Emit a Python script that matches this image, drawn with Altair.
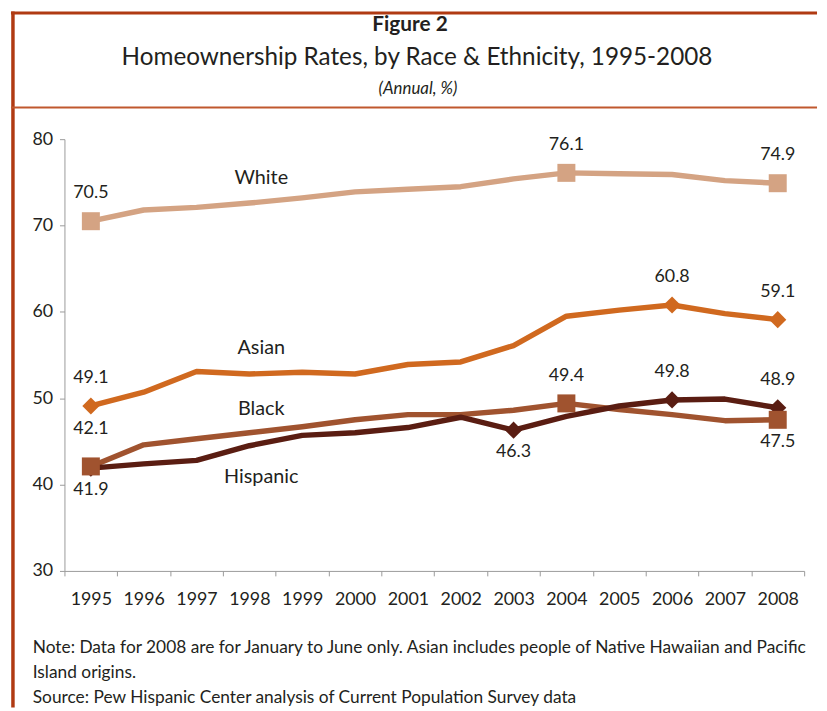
import altair as alt
import pandas as pd

years = list(range(1995, 2009))
white = [70.5, 71.8, 72.1, 72.6, 73.2, 73.9, 74.2, 74.5, 75.4, 76.1, 76.0, 75.9, 75.2, 74.9]
asian = [49.1, 50.7, 53.1, 52.8, 53.0, 52.8, 53.9, 54.2, 56.1, 59.5, 60.2, 60.8, 59.8, 59.1]
black = [42.1, 44.6, 45.3, 46.0, 46.7, 47.5, 48.1, 48.1, 48.6, 49.4, 48.7, 48.1, 47.4, 47.5]
hispanic = [41.9, 42.4, 42.8, 44.5, 45.7, 46.0, 46.6, 47.8, 46.3, 47.9, 49.1, 49.8, 49.9, 48.9]

series_names = ["White", "Asian", "Black", "Hispanic"]
series_values = [white, asian, black, hispanic]
series_colors = ["#d4a383", "#d0691f", "#a0532f", "#5a1d12"]
series_shapes = ["square", "diamond", "square", "diamond"]
marker_years = [[1995, 2004, 2008], [1995, 2006, 2008], [1995, 2004, 2008], [1995, 2003, 2006, 2008]]
label_above = [[1995, 2004, 2008], [1995, 2006, 2008], [1995, 2004], [2006, 2008]]
label_below = [[], [], [2008], [1995, 2003]]

# series name annotations: (anchor year, value level)
name_year = ["1998", "1998", "1998", "1998"]
name_level = [75.5, 55.8, 48.7, 40.9]

title_main = "Figure 2"
title_sub = "Homeownership Rates, by Race & Ethnicity, 1995-2008"
title_unit = "(Annual, %)"
note_lines = [
    "Note: Data for 2008 are for January to June only. Asian includes people of Native Hawaiian and Pacific",
    "Island origins.",
    "Source: Pew Hispanic Center analysis of Current Population Survey data",
]

FONT = "Lato"
TXT = "#231f20"

rows = []
for name, vals in zip(series_names, series_values):
    for y, v in zip(years, vals):
        rows.append({"year": str(y), "value": v, "series": name})
df = pd.DataFrame(rows)

xenc = alt.X(
    "year:O",
    bandPosition=0.5,
    scale=alt.Scale(type="band", paddingInner=0, paddingOuter=0),
    axis=alt.Axis(
        title=None, labelAngle=0, tickBand="extent", labelFontSize=18, labelFont=FONT,
        labelColor=TXT, domainColor="#9a9a9a", tickColor="#9a9a9a", tickSize=5,
        labelPadding=15, grid=False,
    ),
)
yenc = alt.Y(
    "value:Q",
    scale=alt.Scale(domain=[30, 80], nice=False, zero=False),
    axis=alt.Axis(
        title=None, values=[30, 40, 50, 60, 70, 80], labelFontSize=18, labelFont=FONT,
        labelColor=TXT, domainColor="#9a9a9a", tickColor="#9a9a9a", tickSize=5,
        labelPadding=7, grid=False,
    ),
)

layers = []
# lines
for name, color in zip(series_names, series_colors):
    layers.append(
        alt.Chart(df[df.series == name]).mark_line(color=color, strokeWidth=5.5, strokeJoin="round")
        .encode(x=xenc, y=yenc)
    )
# markers (Hispanic first so Black's 1995 square sits on top)
for idx in [0, 1, 3, 2]:
    name = series_names[idx]
    sub = df[(df.series == name) & (df.year.isin([str(y) for y in marker_years[idx]]))]
    size = 330 if series_shapes[idx] == "square" else 300
    layers.append(
        alt.Chart(sub).mark_point(shape=series_shapes[idx], filled=True, opacity=1,
                                  color=series_colors[idx], size=size)
        .encode(x=xenc, y=yenc)
    )
# value labels
for idx, name in enumerate(series_names):
    above = [str(y) for y in label_above[idx]]
    below = [str(y) for y in label_below[idx]]
    for yrs, dy in [(above, -28), (below, 22)]:
        if not yrs:
            continue
        sub = df[(df.series == name) & (df.year.isin(yrs))]
        if name == "Black" and dy < 0:
            for yy in yrs:
                d = -38 if yy == "1995" else -28
                layers.append(
                    alt.Chart(sub[sub.year == yy]).mark_text(fontSize=18, font=FONT, color=TXT, dy=d, baseline="middle")
                    .encode(x=xenc, y=yenc, text=alt.Text("value:Q", format=".1f"))
                )
            continue
        layers.append(
            alt.Chart(sub).mark_text(fontSize=18, font=FONT, color=TXT, dy=dy, baseline="middle")
            .encode(x=xenc, y=yenc, text=alt.Text("value:Q", format=".1f"))
        )
# series name labels
names_df = pd.DataFrame({"year": name_year, "value": name_level, "series": series_names})
layers.append(
    alt.Chart(names_df).mark_text(fontSize=20, font=FONT, color=TXT, dx=12, baseline="middle")
    .encode(x=xenc, y=yenc, text="series:N")
)

# decorations: titles, notes, frame
def txt(s, x, y, **kw):
    return alt.Chart(pd.DataFrame({"t": [s]})).mark_text(
        font=FONT, color=TXT, baseline="middle", **kw
    ).encode(text="t:N", x=alt.value(x), y=alt.value(y))

layers.append(txt(title_main, 349, -115, fontSize=21, fontWeight="bold", align="center"))
layers.append(txt(title_sub, 356, -82, fontSize=24.5, align="center"))
layers.append(txt(title_unit, 357, -51, fontSize=17, fontStyle="italic", align="center"))
for i, line in enumerate(note_lines):
    layers.append(txt(line, -32, 514 + 25 * i, fontSize=17.5, align="left"))

def rule(x, x2, y, y2, color, w):
    return alt.Chart(pd.DataFrame({"a": [0]})).mark_rule(color=color, strokeWidth=w).encode(
        x=alt.value(x), x2=alt.value(x2), y=alt.value(y), y2=alt.value(y2)
    )

layers.append(rule(-52, -52, -129, 574, "#b03a12", 3.5))
layers.append(rule(-54, 760, -127.5, -127.5, "#b03a12", 3))
layers.append(rule(-54, 760, -32, -32, "#c0582e", 2))

chart = alt.layer(*layers).properties(
    width=747,
    height=436,
    padding={"left": 57, "top": 129, "right": 15, "bottom": 138},
    autosize=alt.AutoSizeParams(type="none"),
    background="white",
).configure_view(stroke=None)

chart.save("out.html", embed_options={"renderer": "svg", "actions": False})
